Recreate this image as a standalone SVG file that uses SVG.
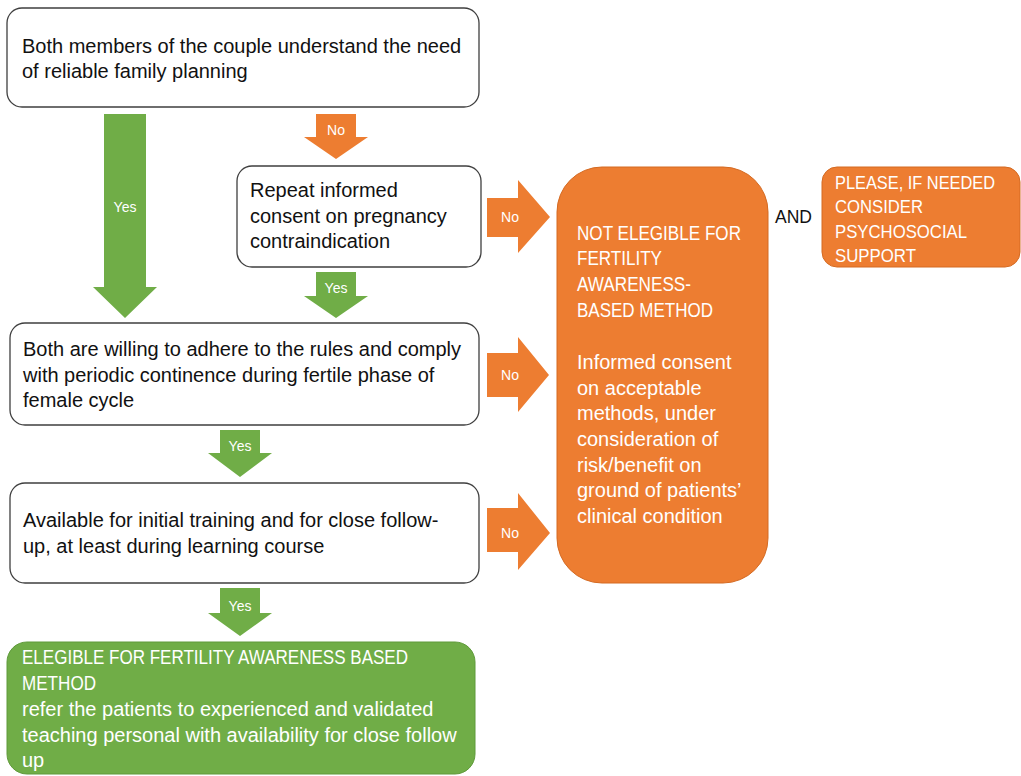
<svg xmlns="http://www.w3.org/2000/svg" width="1021" height="776" viewBox="0 0 1021 776">
<style>
.box{fill:#fff;stroke:#3f3f3f;stroke-width:1.3}
.or{fill:#ED7D31}
.gr{fill:#70AD47}
.orb{fill:#ED7D31;stroke:#d46a22;stroke-width:1}
.grb{fill:#70AD47;stroke:#5f9a3a;stroke-width:1}
text{font-family:"Liberation Sans",Arial,sans-serif;font-size:20px}
.t{fill:#111}
.w{fill:#fff}
.c{font-size:19.5px}
.s{font-size:18.5px}
.and{fill:#111;font-size:18px}
.lbl{fill:#fff;font-size:14px;text-anchor:middle}
</style>
<g id="connectors">
  <polygon class="gr" points="104,114 146,114 146,287 157,287 125,318 93,287 104,287"/>
  <text class="lbl" x="125" y="212">Yes</text>
  <polygon class="or" points="316,114 356,114 356,137 368,137 336,159 304,137 316,137"/>
  <text class="lbl" x="336" y="135">No</text>
  <polygon class="gr" points="316,272 356,272 356,296 368,296 336,318 304,296 316,296"/>
  <text class="lbl" x="336" y="293">Yes</text>
  <polygon class="gr" points="220,430 260,430 260,453 272,453 240,477 208,453 220,453"/>
  <text class="lbl" x="240" y="451">Yes</text>
  <polygon class="gr" points="220,588 260,588 260,613 272,613 240,636 208,613 220,613"/>
  <text class="lbl" x="240" y="611">Yes</text>
  <polygon class="or" points="487,198 518,198 518,180 550,217 518,253 518,237 487,237"/>
  <text class="lbl" x="510" y="222">No</text>
  <polygon class="or" points="487,353 518,353 518,337 549,375 518,412 518,397 487,397"/>
  <text class="lbl" x="510" y="380">No</text>
  <polygon class="or" points="487,508 518,508 518,493 550,533 518,570 518,552 487,552"/>
  <text class="lbl" x="510" y="538">No</text>
  <text class="and" x="775" y="223" textLength="37" lengthAdjust="spacingAndGlyphs">AND</text>
</g>
<g id="n1">
  <rect class="box" x="7" y="8" width="472" height="99" rx="15"/>
  <text class="t" x="22" y="53">Both members of the couple understand the need</text>
  <text class="t" x="22" y="78">of reliable family planning</text>
</g>
<g id="n2">
  <rect class="box" x="237" y="166" width="244" height="101" rx="15"/>
  <text class="t" x="250" y="197">Repeat informed</text>
  <text class="t" x="250" y="223">consent on pregnancy</text>
  <text class="t" x="250" y="248">contraindication</text>
</g>
<g id="n3">
  <rect class="box" x="10" y="323" width="469" height="102" rx="15"/>
  <text class="t" x="23" y="356">Both are willing to adhere to the rules and comply</text>
  <text class="t" x="23" y="382">with periodic continence during fertile phase of</text>
  <text class="t" x="23" y="407">female cycle</text>
</g>
<g id="n4">
  <rect class="box" x="10" y="483" width="469" height="100" rx="15"/>
  <text class="t" x="23" y="527">Available for initial training and for close follow-</text>
  <text class="t" x="23" y="553">up, at least during learning course</text>
</g>
<g id="n5">
  <rect class="orb" x="557" y="167" width="211" height="416" rx="45"/>
  <text class="w c" x="577" y="240" textLength="164" lengthAdjust="spacingAndGlyphs">NOT ELEGIBLE FOR</text>
  <text class="w c" x="577" y="265" textLength="85" lengthAdjust="spacingAndGlyphs">FERTILITY</text>
  <text class="w c" x="577" y="291" textLength="114" lengthAdjust="spacingAndGlyphs">AWARENESS-</text>
  <text class="w c" x="577" y="317" textLength="136" lengthAdjust="spacingAndGlyphs">BASED METHOD</text>
  <text class="w" x="577" y="369">Informed consent</text>
  <text class="w" x="577" y="395">on acceptable</text>
  <text class="w" x="577" y="420">methods, under</text>
  <text class="w" x="577" y="446">consideration of</text>
  <text class="w" x="577" y="472">risk/benefit on</text>
  <text class="w" x="577" y="497">ground of patients’</text>
  <text class="w" x="577" y="523">clinical condition</text>
</g>
<g id="n6">
  <rect class="orb" x="822" y="167" width="198" height="100" rx="15"/>
  <text class="w s" x="835" y="189" textLength="160" lengthAdjust="spacingAndGlyphs">PLEASE, IF NEEDED</text>
  <text class="w s" x="835" y="213" textLength="88" lengthAdjust="spacingAndGlyphs">CONSIDER</text>
  <text class="w s" x="835" y="238" textLength="132" lengthAdjust="spacingAndGlyphs">PSYCHOSOCIAL</text>
  <text class="w s" x="835" y="262" textLength="81" lengthAdjust="spacingAndGlyphs">SUPPORT</text>
</g>
<g id="n7">
  <rect class="grb" x="7" y="642" width="468" height="132" rx="20"/>
  <text class="w c" x="22" y="664" textLength="386" lengthAdjust="spacingAndGlyphs">ELEGIBLE FOR FERTILITY AWARENESS BASED</text>
  <text class="w c" x="22" y="690" textLength="74" lengthAdjust="spacingAndGlyphs">METHOD</text>
  <text class="w" x="22" y="716">refer the patients to experienced and validated</text>
  <text class="w" x="22" y="742">teaching personal with availability for close follow</text>
  <text class="w" x="22" y="767">up</text>
</g>
</svg>
